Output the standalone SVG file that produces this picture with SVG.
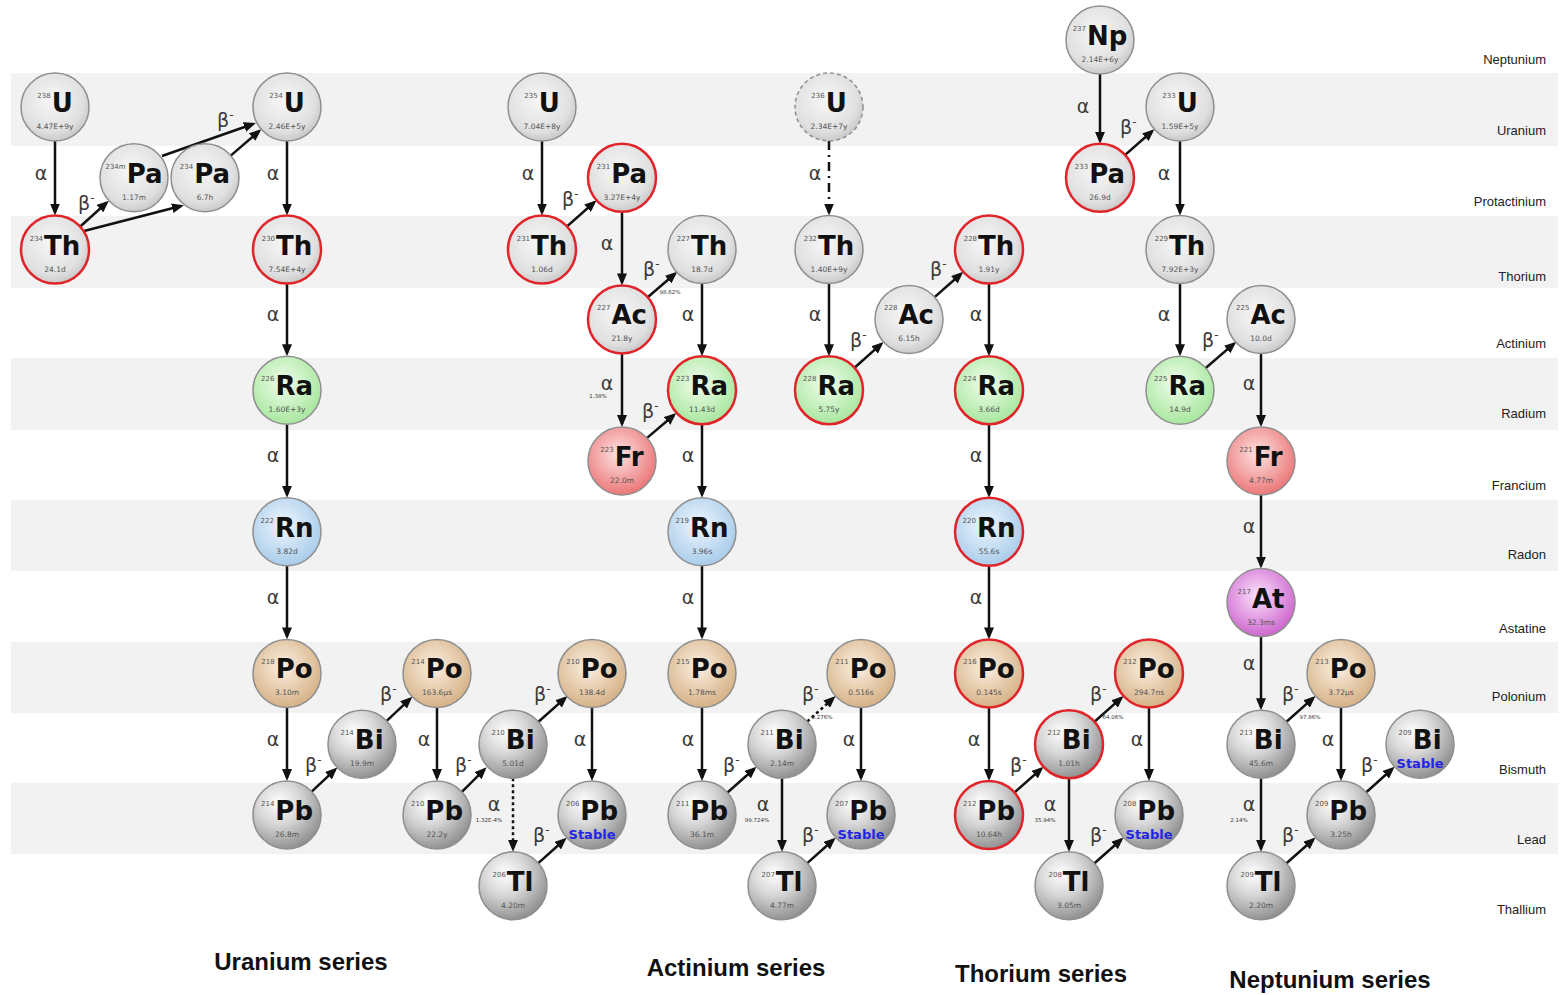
<svg xmlns="http://www.w3.org/2000/svg" width="1564" height="995" viewBox="0 0 1564 995">
<style>
.t{font-family:"DejaVu Sans",sans-serif;text-anchor:middle;fill:#111}
.m{font-size:7px;fill:#555}
.s{font-size:26px;font-weight:bold}
.h{font-family:"DejaVu Sans",sans-serif;font-size:7.5px;fill:#555;text-anchor:middle}
.st{font-family:"DejaVu Sans",sans-serif;font-size:13px;font-weight:bold;fill:#2424e8;text-anchor:middle}
.nb{stroke:#8f8f8f;stroke-width:1.5}
.rb{stroke:#e0242a;stroke-width:2.5}
.db{stroke:#8f8f8f;stroke-width:1.5;stroke-dasharray:4,3}
.a{stroke:#111;stroke-width:2.5;fill:none;marker-end:url(#ah)}
.dt{stroke-dasharray:3,3}
.dd{stroke-dasharray:9,5,2,5}
.al{font-family:"DejaVu Sans",sans-serif;font-size:19px;fill:#3a3a3a;text-anchor:middle}
.bl{font-family:"DejaVu Sans",sans-serif;font-size:19px;fill:#3a3a3a}
.sup{font-size:12px}
.pc{font-family:"DejaVu Sans",sans-serif;font-size:5.5px;fill:#333;text-anchor:middle}
.rl{font-family:"Liberation Sans",Arial,sans-serif;font-size:13px;fill:#222;text-anchor:end}
.ti{font-family:"Liberation Sans",Arial,sans-serif;font-size:24px;font-weight:bold;fill:#111;text-anchor:middle}
.band{fill:#f2f2f2}
</style>
<defs>
<radialGradient id="gL" cx="0.45" cy="0.4" r="0.62"><stop offset="0" stop-color="#f7f7f7"/><stop offset="0.75" stop-color="#e0e0e0"/><stop offset="1" stop-color="#c6c6c6"/></radialGradient>
<radialGradient id="gM" cx="0.38" cy="0.32" r="0.72"><stop offset="0" stop-color="#ffffff"/><stop offset="0.45" stop-color="#d6d6d6"/><stop offset="1" stop-color="#8c8c8c"/></radialGradient>
<radialGradient id="gG" cx="0.45" cy="0.4" r="0.62"><stop offset="0" stop-color="#f0fdec"/><stop offset="1" stop-color="#a6e69c"/></radialGradient>
<radialGradient id="gB" cx="0.45" cy="0.4" r="0.62"><stop offset="0" stop-color="#eef6fd"/><stop offset="1" stop-color="#a7cbea"/></radialGradient>
<radialGradient id="gT" cx="0.45" cy="0.4" r="0.62"><stop offset="0" stop-color="#fbf0e2"/><stop offset="1" stop-color="#d5b084"/></radialGradient>
<radialGradient id="gR" cx="0.45" cy="0.4" r="0.62"><stop offset="0" stop-color="#fde3e3"/><stop offset="1" stop-color="#eb7474"/></radialGradient>
<radialGradient id="gP" cx="0.45" cy="0.4" r="0.62"><stop offset="0" stop-color="#fbe3fb"/><stop offset="1" stop-color="#cd63cd"/></radialGradient>
<marker id="ah" markerUnits="userSpaceOnUse" markerWidth="12" markerHeight="10" viewBox="0 0 12 10" refX="9" refY="5" orient="auto"><path d="M0,0 L12,5 L0,10 z" fill="#111"/></marker>
</defs>
<rect width="1564" height="995" fill="#fff"/>
<g id="bands">
<rect class="band" x="11" y="73" width="1547" height="73"/>
<rect class="band" x="11" y="216" width="1547" height="72"/>
<rect class="band" x="11" y="358" width="1547" height="72"/>
<rect class="band" x="11" y="500" width="1547" height="71"/>
<rect class="band" x="11" y="642" width="1547" height="71"/>
<rect class="band" x="11" y="783" width="1547" height="71"/>
</g>
<g id="row-labels">
<text class="rl" x="1546" y="64">Neptunium</text>
<text class="rl" x="1546" y="135">Uranium</text>
<text class="rl" x="1546" y="206">Protactinium</text>
<text class="rl" x="1546" y="281">Thorium</text>
<text class="rl" x="1546" y="348">Actinium</text>
<text class="rl" x="1546" y="418">Radium</text>
<text class="rl" x="1546" y="490">Francium</text>
<text class="rl" x="1546" y="559">Radon</text>
<text class="rl" x="1546" y="633">Astatine</text>
<text class="rl" x="1546" y="701">Polonium</text>
<text class="rl" x="1546" y="774">Bismuth</text>
<text class="rl" x="1546" y="844">Lead</text>
<text class="rl" x="1546" y="914">Thallium</text>
</g>
<g id="connectors">
<!-- uranium series -->
<path class="a" d="M55,141 V212.5"/><text class="al" x="41" y="180">α</text>
<path class="a" d="M84,231 L181,206"/>
<path class="a" d="M80,226.7 L106.6,202.7"/><text class="bl" x="78" y="210">β<tspan class="sup" dy="-8">-</tspan></text>
<path class="a" d="M162,156 L253,124"/>
<path class="a" d="M230.7,155.6 L259,131.2"/><text class="bl" x="217" y="127">β<tspan class="sup" dy="-8">-</tspan></text>
<path class="a" d="M287,141 V212.5"/><text class="al" x="273" y="180">α</text>
<path class="a" d="M287,283.5 V353.2"/><text class="al" x="273" y="321">α</text>
<path class="a" d="M287,424.2 V494.8"/><text class="al" x="273" y="462">α</text>
<path class="a" d="M287,565.8 V636.4"/><text class="al" x="273" y="604">α</text>
<path class="a" d="M287,707.4 V778"/><text class="al" x="273" y="746">α</text>
<path class="a" d="M311.7,791.6 L335.1,769.6"/><text class="bl" x="305" y="772">β<tspan class="sup" dy="-8">-</tspan></text>
<path class="a" d="M386.7,720.8 L410.1,698.8"/><text class="bl" x="380" y="701">β<tspan class="sup" dy="-8">-</tspan></text>
<path class="a" d="M437,707.4 V778"/><text class="al" x="424" y="746">α</text>
<path class="a" d="M461.9,791.8 L484.5,769.4"/><text class="bl" x="455" y="772">β<tspan class="sup" dy="-8">-</tspan></text>
<path class="a" d="M538.5,721.7 L565.3,697.9"/><text class="bl" x="534" y="701">β<tspan class="sup" dy="-8">-</tspan></text>
<path class="a dt" d="M513,778.2 V848.8"/><text class="al" x="494" y="811">α</text><text class="pc" x="489" y="822">1.32E-4%</text>
<path class="a" d="M592,707.4 V778"/><text class="al" x="580" y="746">α</text>
<path class="a" d="M538.3,863.1 L564.4,839.7"/><text class="bl" x="533" y="842">β<tspan class="sup" dy="-8">-</tspan></text>
<!-- actinium series -->
<path class="a" d="M542,141 V212.5"/><text class="al" x="528" y="180">α</text>
<path class="a" d="M566.5,226.9 L594.3,202.3"/><text class="bl" x="562" y="206">β<tspan class="sup" dy="-8">-</tspan></text>
<path class="a" d="M622,211.8 V282.4"/><text class="al" x="607" y="250">α</text>
<path class="a" d="M647.7,297.2 L675,273.7"/><text class="bl" x="643" y="276">β<tspan class="sup" dy="-8">-</tspan></text><text class="pc" x="670" y="294">98.62%</text>
<path class="a" d="M702,283.5 V353.2"/><text class="al" x="688" y="321">α</text>
<path class="a" d="M622,353.4 V424"/><text class="al" x="607" y="390">α</text><text class="pc" x="598" y="398">1.38%</text>
<path class="a" d="M646.5,438.4 L674,415"/><text class="bl" x="642" y="418">β<tspan class="sup" dy="-8">-</tspan></text>
<path class="a" d="M702,424.2 V494.8"/><text class="al" x="688" y="462">α</text>
<path class="a" d="M702,565.8 V636.4"/><text class="al" x="688" y="604">α</text>
<path class="a" d="M702,707.4 V778"/><text class="al" x="688" y="746">α</text>
<path class="a" d="M727.5,792.5 L754.3,768.7"/><text class="bl" x="723" y="772">β<tspan class="sup" dy="-8">-</tspan></text>
<path class="a dt" d="M807.3,721.5 L833.4,698.1"/><text class="bl" x="802" y="701">β<tspan class="sup" dy="-8">-</tspan></text><text class="pc" x="822" y="719">0.276%</text>
<path class="a" d="M782,778.2 V848.8"/><text class="al" x="763" y="811">α</text><text class="pc" x="757" y="822">99.724%</text>
<path class="a" d="M861,707.4 V778"/><text class="al" x="849" y="746">α</text>
<path class="a" d="M807.3,863.1 L833.4,839.7"/><text class="bl" x="802" y="842">β<tspan class="sup" dy="-8">-</tspan></text>
<!-- thorium series -->
<path class="a dd" d="M829,141 V212.5"/><text class="al" x="815" y="180">α</text>
<path class="a" d="M829,283.5 V353.2"/><text class="al" x="815" y="321">α</text>
<path class="a" d="M854.5,367.7 L881.3,343.9"/><text class="bl" x="850" y="347">β<tspan class="sup" dy="-8">-</tspan></text>
<path class="a" d="M934.6,297.1 L961.1,273.8"/><text class="bl" x="930" y="276">β<tspan class="sup" dy="-8">-</tspan></text>
<path class="a" d="M989,283.5 V353.2"/><text class="al" x="976" y="321">α</text>
<path class="a" d="M989,424.2 V494.8"/><text class="al" x="976" y="462">α</text>
<path class="a" d="M989,565.8 V636.4"/><text class="al" x="976" y="604">α</text>
<path class="a" d="M989,707.4 V778"/><text class="al" x="974" y="746">α</text>
<path class="a" d="M1014.5,792.5 L1041.3,768.7"/><text class="bl" x="1010" y="772">β<tspan class="sup" dy="-8">-</tspan></text>
<path class="a" d="M1094.5,721.7 L1121.3,697.9"/><text class="bl" x="1090" y="701">β<tspan class="sup" dy="-8">-</tspan></text><text class="pc" x="1113" y="719">64.06%</text>
<path class="a" d="M1069,778.2 V848.8"/><text class="al" x="1050" y="811">α</text><text class="pc" x="1045" y="822">35.94%</text>
<path class="a" d="M1149,707.4 V778"/><text class="al" x="1137" y="746">α</text>
<path class="a" d="M1094.5,863.3 L1121.3,839.5"/><text class="bl" x="1090" y="842">β<tspan class="sup" dy="-8">-</tspan></text>
<!-- neptunium series -->
<path class="a" d="M1100,74 V140.8"/><text class="al" x="1083" y="113">α</text>
<path class="a" d="M1124.6,155.4 L1152.1,131.3"/><text class="bl" x="1120" y="134">β<tspan class="sup" dy="-8">-</tspan></text>
<path class="a" d="M1180,141 V212.5"/><text class="al" x="1164" y="180">α</text>
<path class="a" d="M1180,283.5 V353.2"/><text class="al" x="1164" y="321">α</text>
<path class="a" d="M1205.7,368 L1234,343.6"/><text class="bl" x="1202" y="347">β<tspan class="sup" dy="-8">-</tspan></text>
<path class="a" d="M1261,353.4 V424"/><text class="al" x="1249" y="390">α</text>
<path class="a" d="M1261,495 V565.6"/><text class="al" x="1249" y="533">α</text>
<path class="a" d="M1261,636.6 V707.2"/><text class="al" x="1249" y="670">α</text>
<path class="a" d="M1286.5,721.7 L1313.3,697.9"/><text class="bl" x="1282" y="701">β<tspan class="sup" dy="-8">-</tspan></text><text class="pc" x="1310" y="719">97.86%</text>
<path class="a" d="M1261,778.2 V848.8"/><text class="al" x="1249" y="811">α</text><text class="pc" x="1239" y="822">2.14%</text>
<path class="a" d="M1341,707.4 V778"/><text class="al" x="1328" y="746">α</text>
<path class="a" d="M1286.5,863.3 L1313.3,839.5"/><text class="bl" x="1282" y="842">β<tspan class="sup" dy="-8">-</tspan></text>
<path class="a" d="M1366.3,792.2 L1392.4,768.8"/><text class="bl" x="1361" y="772">β<tspan class="sup" dy="-8">-</tspan></text>
</g>
<!-- Uranium series nodes -->
<g id="U238"><circle cx="55" cy="107" r="34" fill="url(#gL)" class="nb"/><text class="t" x="55" y="112"><tspan class="m" dy="-14">238</tspan><tspan class="s" dy="14" dx="1">U</tspan></text><text class="h" x="55" y="129">4.47E+9y</text></g>
<g id="Th234"><circle cx="55" cy="249.5" r="34" fill="url(#gL)" class="rb"/><text class="t" x="55" y="254.5"><tspan class="m" dy="-14">234</tspan><tspan class="s" dy="14" dx="1">Th</tspan></text><text class="h" x="55" y="271.5">24.1d</text></g>
<g id="Pa234m"><circle cx="134" cy="177.8" r="34" fill="url(#gL)" class="nb"/><text class="t" x="134" y="182.8"><tspan class="m" dy="-14">234m</tspan><tspan class="s" dy="14" dx="1">Pa</tspan></text><text class="h" x="134" y="199.8">1.17m</text></g>
<g id="Pa234"><circle cx="205" cy="177.8" r="34" fill="url(#gL)" class="nb"/><text class="t" x="205" y="182.8"><tspan class="m" dy="-14">234</tspan><tspan class="s" dy="14" dx="1">Pa</tspan></text><text class="h" x="205" y="199.8">6.7h</text></g>
<g id="U234"><circle cx="287" cy="107" r="34" fill="url(#gL)" class="nb"/><text class="t" x="287" y="112"><tspan class="m" dy="-14">234</tspan><tspan class="s" dy="14" dx="1">U</tspan></text><text class="h" x="287" y="129">2.46E+5y</text></g>
<g id="Th230"><circle cx="287" cy="249.5" r="34" fill="url(#gL)" class="rb"/><text class="t" x="287" y="254.5"><tspan class="m" dy="-14">230</tspan><tspan class="s" dy="14" dx="1">Th</tspan></text><text class="h" x="287" y="271.5">7.54E+4y</text></g>
<g id="Ra226"><circle cx="287" cy="390.2" r="34" fill="url(#gG)" class="nb"/><text class="t" x="287" y="395.2"><tspan class="m" dy="-14">226</tspan><tspan class="s" dy="14" dx="1">Ra</tspan></text><text class="h" x="287" y="412.2">1.60E+3y</text></g>
<g id="Rn222"><circle cx="287" cy="531.8" r="34" fill="url(#gB)" class="nb"/><text class="t" x="287" y="536.8"><tspan class="m" dy="-14">222</tspan><tspan class="s" dy="14" dx="1">Rn</tspan></text><text class="h" x="287" y="553.8">3.82d</text></g>
<g id="Po218"><circle cx="287" cy="673.4" r="34" fill="url(#gT)" class="nb"/><text class="t" x="287" y="678.4"><tspan class="m" dy="-14">218</tspan><tspan class="s" dy="14" dx="1">Po</tspan></text><text class="h" x="287" y="695.4">3.10m</text></g>
<g id="Pb214"><circle cx="287" cy="815" r="34" fill="url(#gM)" class="nb"/><text class="t" x="287" y="820"><tspan class="m" dy="-14">214</tspan><tspan class="s" dy="14" dx="1">Pb</tspan></text><text class="h" x="287" y="837">26.8m</text></g>
<g id="Bi214"><circle cx="362" cy="744.2" r="34" fill="url(#gM)" class="nb"/><text class="t" x="362" y="749.2"><tspan class="m" dy="-14">214</tspan><tspan class="s" dy="14" dx="1">Bi</tspan></text><text class="h" x="362" y="766.2">19.9m</text></g>
<g id="Po214"><circle cx="437" cy="673.4" r="34" fill="url(#gT)" class="nb"/><text class="t" x="437" y="678.4"><tspan class="m" dy="-14">214</tspan><tspan class="s" dy="14" dx="1">Po</tspan></text><text class="h" x="437" y="695.4">163.6μs</text></g>
<g id="Pb210"><circle cx="437" cy="815" r="34" fill="url(#gM)" class="nb"/><text class="t" x="437" y="820"><tspan class="m" dy="-14">210</tspan><tspan class="s" dy="14" dx="1">Pb</tspan></text><text class="h" x="437" y="837">22.2y</text></g>
<g id="Bi210"><circle cx="513" cy="744.2" r="34" fill="url(#gM)" class="nb"/><text class="t" x="513" y="749.2"><tspan class="m" dy="-14">210</tspan><tspan class="s" dy="14" dx="1">Bi</tspan></text><text class="h" x="513" y="766.2">5.01d</text></g>
<g id="Po210"><circle cx="592" cy="673.4" r="34" fill="url(#gT)" class="nb"/><text class="t" x="592" y="678.4"><tspan class="m" dy="-14">210</tspan><tspan class="s" dy="14" dx="1">Po</tspan></text><text class="h" x="592" y="695.4">138.4d</text></g>
<g id="Pb206"><circle cx="592" cy="815" r="34" fill="url(#gM)" class="nb"/><text class="t" x="592" y="820"><tspan class="m" dy="-14">206</tspan><tspan class="s" dy="14" dx="1">Pb</tspan></text><text class="st" x="592" y="839">Stable</text></g>
<g id="Tl206"><circle cx="513" cy="885.8" r="34" fill="url(#gM)" class="nb"/><text class="t" x="513" y="890.8"><tspan class="m" dy="-14">206</tspan><tspan class="s" dy="14" dx="1">Tl</tspan></text><text class="h" x="513" y="907.8">4.20m</text></g>
<!-- Actinium series nodes -->
<g id="U235"><circle cx="542" cy="107" r="34" fill="url(#gL)" class="nb"/><text class="t" x="542" y="112"><tspan class="m" dy="-14">235</tspan><tspan class="s" dy="14" dx="1">U</tspan></text><text class="h" x="542" y="129">7.04E+8y</text></g>
<g id="Th231"><circle cx="542" cy="249.5" r="34" fill="url(#gL)" class="rb"/><text class="t" x="542" y="254.5"><tspan class="m" dy="-14">231</tspan><tspan class="s" dy="14" dx="1">Th</tspan></text><text class="h" x="542" y="271.5">1.06d</text></g>
<g id="Pa231"><circle cx="622" cy="177.8" r="34" fill="url(#gL)" class="rb"/><text class="t" x="622" y="182.8"><tspan class="m" dy="-14">231</tspan><tspan class="s" dy="14" dx="1">Pa</tspan></text><text class="h" x="622" y="199.8">3.27E+4y</text></g>
<g id="Ac227"><circle cx="622" cy="319.4" r="34" fill="url(#gL)" class="rb"/><text class="t" x="622" y="324.4"><tspan class="m" dy="-14">227</tspan><tspan class="s" dy="14" dx="1">Ac</tspan></text><text class="h" x="622" y="341.4">21.8y</text></g>
<g id="Th227"><circle cx="702" cy="249.5" r="34" fill="url(#gL)" class="nb"/><text class="t" x="702" y="254.5"><tspan class="m" dy="-14">227</tspan><tspan class="s" dy="14" dx="1">Th</tspan></text><text class="h" x="702" y="271.5">18.7d</text></g>
<g id="Fr223"><circle cx="622" cy="461" r="34" fill="url(#gR)" class="nb"/><text class="t" x="622" y="466"><tspan class="m" dy="-14">223</tspan><tspan class="s" dy="14" dx="1">Fr</tspan></text><text class="h" x="622" y="483">22.0m</text></g>
<g id="Ra223"><circle cx="702" cy="390.2" r="34" fill="url(#gG)" class="rb"/><text class="t" x="702" y="395.2"><tspan class="m" dy="-14">223</tspan><tspan class="s" dy="14" dx="1">Ra</tspan></text><text class="h" x="702" y="412.2">11.43d</text></g>
<g id="Rn219"><circle cx="702" cy="531.8" r="34" fill="url(#gB)" class="nb"/><text class="t" x="702" y="536.8"><tspan class="m" dy="-14">219</tspan><tspan class="s" dy="14" dx="1">Rn</tspan></text><text class="h" x="702" y="553.8">3.96s</text></g>
<g id="Po215"><circle cx="702" cy="673.4" r="34" fill="url(#gT)" class="nb"/><text class="t" x="702" y="678.4"><tspan class="m" dy="-14">215</tspan><tspan class="s" dy="14" dx="1">Po</tspan></text><text class="h" x="702" y="695.4">1.78ms</text></g>
<g id="Pb211"><circle cx="702" cy="815" r="34" fill="url(#gM)" class="nb"/><text class="t" x="702" y="820"><tspan class="m" dy="-14">211</tspan><tspan class="s" dy="14" dx="1">Pb</tspan></text><text class="h" x="702" y="837">36.1m</text></g>
<g id="Bi211"><circle cx="782" cy="744.2" r="34" fill="url(#gM)" class="nb"/><text class="t" x="782" y="749.2"><tspan class="m" dy="-14">211</tspan><tspan class="s" dy="14" dx="1">Bi</tspan></text><text class="h" x="782" y="766.2">2.14m</text></g>
<g id="Po211"><circle cx="861" cy="673.4" r="34" fill="url(#gT)" class="nb"/><text class="t" x="861" y="678.4"><tspan class="m" dy="-14">211</tspan><tspan class="s" dy="14" dx="1">Po</tspan></text><text class="h" x="861" y="695.4">0.516s</text></g>
<g id="Pb207"><circle cx="861" cy="815" r="34" fill="url(#gM)" class="nb"/><text class="t" x="861" y="820"><tspan class="m" dy="-14">207</tspan><tspan class="s" dy="14" dx="1">Pb</tspan></text><text class="st" x="861" y="839">Stable</text></g>
<g id="Tl207"><circle cx="782" cy="885.8" r="34" fill="url(#gM)" class="nb"/><text class="t" x="782" y="890.8"><tspan class="m" dy="-14">207</tspan><tspan class="s" dy="14" dx="1">Tl</tspan></text><text class="h" x="782" y="907.8">4.77m</text></g>
<!-- Thorium series nodes -->
<g id="U236"><circle cx="829" cy="107" r="34" fill="url(#gL)" class="db"/><text class="t" x="829" y="112"><tspan class="m" dy="-14">236</tspan><tspan class="s" dy="14" dx="1">U</tspan></text><text class="h" x="829" y="129">2.34E+7y</text></g>
<g id="Th232"><circle cx="829" cy="249.5" r="34" fill="url(#gL)" class="nb"/><text class="t" x="829" y="254.5"><tspan class="m" dy="-14">232</tspan><tspan class="s" dy="14" dx="1">Th</tspan></text><text class="h" x="829" y="271.5">1.40E+9y</text></g>
<g id="Ra228"><circle cx="829" cy="390.2" r="34" fill="url(#gG)" class="rb"/><text class="t" x="829" y="395.2"><tspan class="m" dy="-14">228</tspan><tspan class="s" dy="14" dx="1">Ra</tspan></text><text class="h" x="829" y="412.2">5.75y</text></g>
<g id="Ac228"><circle cx="909" cy="319.4" r="34" fill="url(#gL)" class="nb"/><text class="t" x="909" y="324.4"><tspan class="m" dy="-14">228</tspan><tspan class="s" dy="14" dx="1">Ac</tspan></text><text class="h" x="909" y="341.4">6.15h</text></g>
<g id="Th228"><circle cx="989" cy="249.5" r="34" fill="url(#gL)" class="rb"/><text class="t" x="989" y="254.5"><tspan class="m" dy="-14">228</tspan><tspan class="s" dy="14" dx="1">Th</tspan></text><text class="h" x="989" y="271.5">1.91y</text></g>
<g id="Ra224"><circle cx="989" cy="390.2" r="34" fill="url(#gG)" class="rb"/><text class="t" x="989" y="395.2"><tspan class="m" dy="-14">224</tspan><tspan class="s" dy="14" dx="1">Ra</tspan></text><text class="h" x="989" y="412.2">3.66d</text></g>
<g id="Rn220"><circle cx="989" cy="531.8" r="34" fill="url(#gB)" class="rb"/><text class="t" x="989" y="536.8"><tspan class="m" dy="-14">220</tspan><tspan class="s" dy="14" dx="1">Rn</tspan></text><text class="h" x="989" y="553.8">55.6s</text></g>
<g id="Po216"><circle cx="989" cy="673.4" r="34" fill="url(#gT)" class="rb"/><text class="t" x="989" y="678.4"><tspan class="m" dy="-14">216</tspan><tspan class="s" dy="14" dx="1">Po</tspan></text><text class="h" x="989" y="695.4">0.145s</text></g>
<g id="Pb212"><circle cx="989" cy="815" r="34" fill="url(#gM)" class="rb"/><text class="t" x="989" y="820"><tspan class="m" dy="-14">212</tspan><tspan class="s" dy="14" dx="1">Pb</tspan></text><text class="h" x="989" y="837">10.64h</text></g>
<g id="Bi212"><circle cx="1069" cy="744.2" r="34" fill="url(#gM)" class="rb"/><text class="t" x="1069" y="749.2"><tspan class="m" dy="-14">212</tspan><tspan class="s" dy="14" dx="1">Bi</tspan></text><text class="h" x="1069" y="766.2">1.01h</text></g>
<g id="Po212"><circle cx="1149" cy="673.4" r="34" fill="url(#gT)" class="rb"/><text class="t" x="1149" y="678.4"><tspan class="m" dy="-14">212</tspan><tspan class="s" dy="14" dx="1">Po</tspan></text><text class="h" x="1149" y="695.4">294.7ns</text></g>
<g id="Pb208"><circle cx="1149" cy="815" r="34" fill="url(#gM)" class="nb"/><text class="t" x="1149" y="820"><tspan class="m" dy="-14">208</tspan><tspan class="s" dy="14" dx="1">Pb</tspan></text><text class="st" x="1149" y="839">Stable</text></g>
<g id="Tl208"><circle cx="1069" cy="885.8" r="34" fill="url(#gM)" class="nb"/><text class="t" x="1069" y="890.8"><tspan class="m" dy="-14">208</tspan><tspan class="s" dy="14" dx="1">Tl</tspan></text><text class="h" x="1069" y="907.8">3.05m</text></g>
<!-- Neptunium series nodes -->
<g id="Np237"><circle cx="1100" cy="40" r="34" fill="url(#gL)" class="nb"/><text class="t" x="1100" y="45"><tspan class="m" dy="-14">237</tspan><tspan class="s" dy="14" dx="1">Np</tspan></text><text class="h" x="1100" y="62">2.14E+6y</text></g>
<g id="Pa233"><circle cx="1100" cy="177.8" r="34" fill="url(#gL)" class="rb"/><text class="t" x="1100" y="182.8"><tspan class="m" dy="-14">233</tspan><tspan class="s" dy="14" dx="1">Pa</tspan></text><text class="h" x="1100" y="199.8">26.9d</text></g>
<g id="U233"><circle cx="1180" cy="107" r="34" fill="url(#gL)" class="nb"/><text class="t" x="1180" y="112"><tspan class="m" dy="-14">233</tspan><tspan class="s" dy="14" dx="1">U</tspan></text><text class="h" x="1180" y="129">1.59E+5y</text></g>
<g id="Th229"><circle cx="1180" cy="249.5" r="34" fill="url(#gL)" class="nb"/><text class="t" x="1180" y="254.5"><tspan class="m" dy="-14">229</tspan><tspan class="s" dy="14" dx="1">Th</tspan></text><text class="h" x="1180" y="271.5">7.92E+3y</text></g>
<g id="Ra225"><circle cx="1180" cy="390.2" r="34" fill="url(#gG)" class="nb"/><text class="t" x="1180" y="395.2"><tspan class="m" dy="-14">225</tspan><tspan class="s" dy="14" dx="1">Ra</tspan></text><text class="h" x="1180" y="412.2">14.9d</text></g>
<g id="Ac225"><circle cx="1261" cy="319.4" r="34" fill="url(#gL)" class="nb"/><text class="t" x="1261" y="324.4"><tspan class="m" dy="-14">225</tspan><tspan class="s" dy="14" dx="1">Ac</tspan></text><text class="h" x="1261" y="341.4">10.0d</text></g>
<g id="Fr221"><circle cx="1261" cy="461" r="34" fill="url(#gR)" class="nb"/><text class="t" x="1261" y="466"><tspan class="m" dy="-14">221</tspan><tspan class="s" dy="14" dx="1">Fr</tspan></text><text class="h" x="1261" y="483">4.77m</text></g>
<g id="At217"><circle cx="1261" cy="602.6" r="34" fill="url(#gP)" class="nb"/><text class="t" x="1261" y="607.6"><tspan class="m" dy="-14">217</tspan><tspan class="s" dy="14" dx="1">At</tspan></text><text class="h" x="1261" y="624.6">32.3ms</text></g>
<g id="Bi213"><circle cx="1261" cy="744.2" r="34" fill="url(#gM)" class="nb"/><text class="t" x="1261" y="749.2"><tspan class="m" dy="-14">213</tspan><tspan class="s" dy="14" dx="1">Bi</tspan></text><text class="h" x="1261" y="766.2">45.6m</text></g>
<g id="Po213"><circle cx="1341" cy="673.4" r="34" fill="url(#gT)" class="nb"/><text class="t" x="1341" y="678.4"><tspan class="m" dy="-14">213</tspan><tspan class="s" dy="14" dx="1">Po</tspan></text><text class="h" x="1341" y="695.4">3.72μs</text></g>
<g id="Pb209"><circle cx="1341" cy="815" r="34" fill="url(#gM)" class="nb"/><text class="t" x="1341" y="820"><tspan class="m" dy="-14">209</tspan><tspan class="s" dy="14" dx="1">Pb</tspan></text><text class="h" x="1341" y="837">3.25h</text></g>
<g id="Tl209"><circle cx="1261" cy="885.8" r="34" fill="url(#gM)" class="nb"/><text class="t" x="1261" y="890.8"><tspan class="m" dy="-14">209</tspan><tspan class="s" dy="14" dx="1">Tl</tspan></text><text class="h" x="1261" y="907.8">2.20m</text></g>
<g id="Bi209"><circle cx="1420" cy="744.2" r="34" fill="url(#gM)" class="nb"/><text class="t" x="1420" y="749.2"><tspan class="m" dy="-14">209</tspan><tspan class="s" dy="14" dx="1">Bi</tspan></text><text class="st" x="1420" y="768">Stable</text></g>
<g id="titles">
<text class="ti" x="301" y="970">Uranium series</text>
<text class="ti" x="736" y="976">Actinium series</text>
<text class="ti" x="1041" y="982">Thorium series</text>
<text class="ti" x="1330" y="988">Neptunium series</text>
</g>
</svg>
